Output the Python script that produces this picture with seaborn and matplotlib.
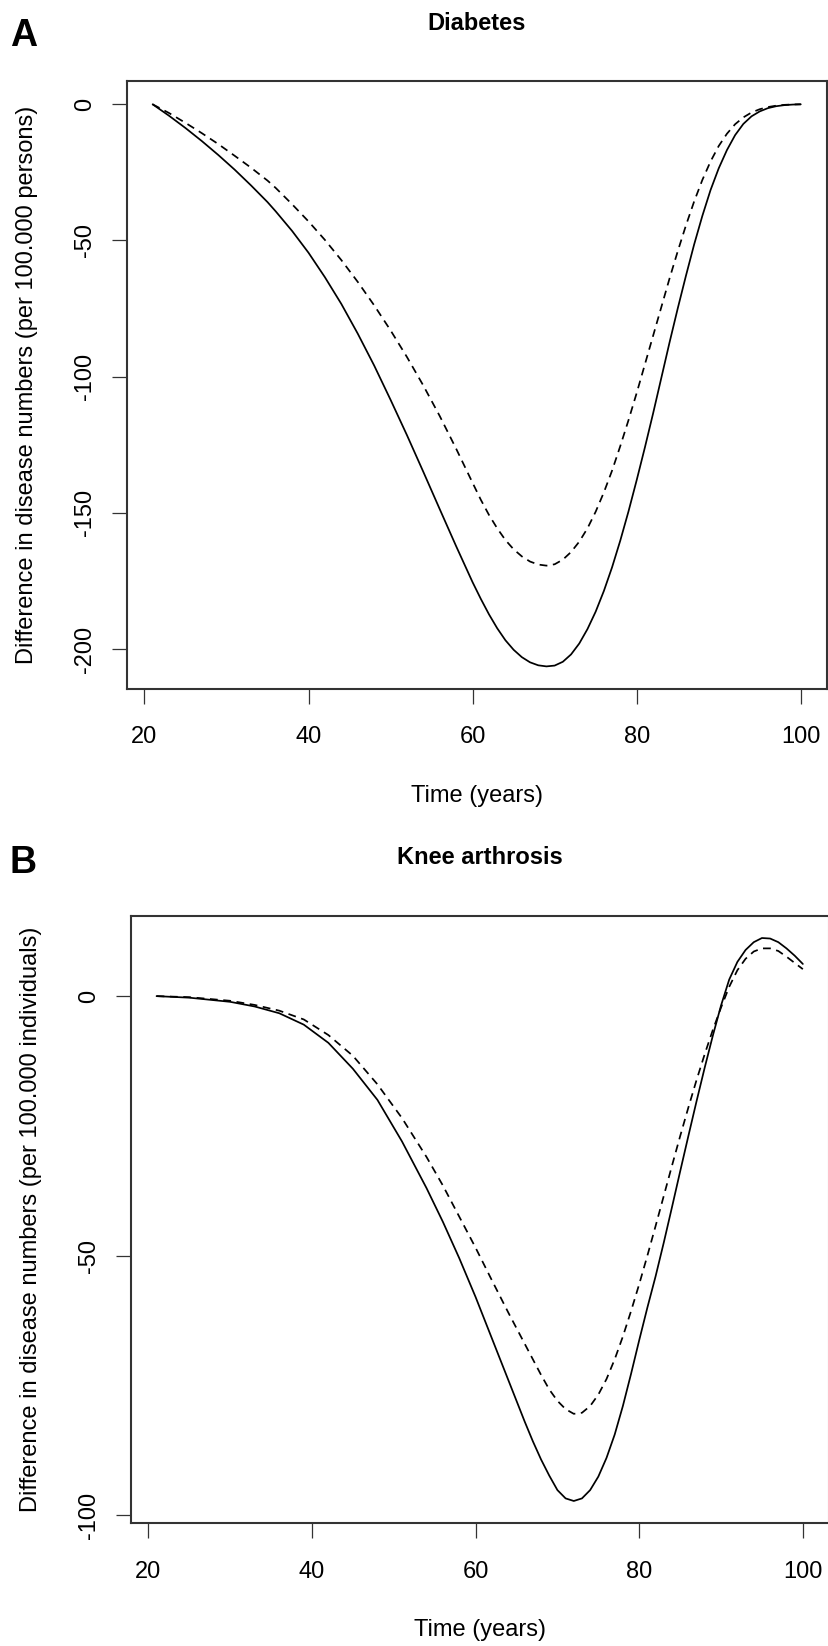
import matplotlib
matplotlib.use("Agg")
import matplotlib.pyplot as plt
import pandas as pd
import seaborn as sns

# ---------------- data ----------------
years_a = [21, 23, 25, 27, 29, 31, 33, 35, 36, 38, 40, 42, 44, 46, 48, 50, 52, 54,
           56, 58, 60, 61, 62, 63, 64, 65, 66, 67, 68, 69, 70, 71, 72, 73, 74, 75,
           76, 77, 78, 79, 80, 81, 82, 83, 84, 85, 86, 87, 88, 89, 90, 91, 92, 93,
           94, 95, 96, 97, 98, 99, 100]
diabetes_solid = [0, -4.2, -8.7, -13.5, -18.6, -24, -29.8, -35.9, -39.3, -46.5,
                  -54.5, -63.5, -73.3, -84.2, -95.9, -108.5, -121.5, -135, -148.7,
                  -162.3, -175.5, -181.6, -187.3, -192.4, -196.8, -200.3, -203,
                  -204.9, -206, -206.4, -206.1, -204.7, -202, -198, -192.7, -186.3,
                  -178.7, -170, -160.2, -149.5, -138, -126, -113.5, -100.5, -87.5,
                  -75, -63, -51.5, -41, -31.5, -23.5, -16.8, -11.3, -7.2, -4.4, -2.6,
                  -1.4, -0.7, -0.3, -0.1, 0]
diabetes_dashed = [0, -3.2, -6.8, -10.6, -14.6, -18.9, -23.3, -28, -30.7, -36.7,
                   -43, -49.8, -57.2, -65.2, -73.8, -83, -92.8, -103.3, -114.5,
                   -126.5, -139, -145.2, -150.8, -155.7, -160, -163.4, -166, -167.9,
                   -169, -169.4, -168.9, -167.2, -164.4, -160.6, -155.7, -149.6,
                   -142.5, -134.5, -125.5, -116, -106, -95.5, -85, -74.5, -64, -54,
                   -44.5, -35.7, -27.8, -21, -15.3, -10.8, -7.3, -4.8, -3, -1.8, -1,
                   -0.5, -0.2, -0.05, 0]

years_b = [21, 25, 30, 33, 36, 39, 42, 45, 48, 51, 54, 56, 58, 60, 62, 64, 65, 66,
           67, 68, 69, 70, 71, 72, 73, 74, 75, 76, 77, 78, 79, 80, 81, 82, 83, 84,
           85, 86, 87, 88, 89, 90, 91, 92, 93, 94, 95, 96, 97, 98, 99, 100]
knee_solid = [0, -0.3, -1.1, -2.0, -3.3, -5.5, -9, -14, -20, -28, -37, -43.5, -50.5,
              -58, -66, -74, -78, -82, -85.8, -89.3, -92.4, -95.2, -96.8, -97.3,
              -96.8, -95.2, -92.6, -89, -84.5, -79, -72.8, -66.3, -60, -54, -47.5,
              -40.7, -33.8, -27, -20.3, -13.8, -7.6, -1.8, 3.2, 6.6, 8.9, 10.4, 11.2,
              11.1, 10.4, 9.2, 7.8, 6.2]
knee_dashed = [0, -0.2, -0.9, -1.7, -2.8, -4.5, -7.5, -11.5, -17, -23.5, -31, -36.5,
               -42.5, -48.5, -54.8, -61, -64, -67, -70, -73, -75.8, -78, -79.6, -80.5,
               -80.3, -79, -76.8, -73.8, -70, -65.6, -60.7, -55.5, -50, -44.3, -38.5,
               -32.7, -27, -21.5, -16.2, -11.2, -6.5, -2.2, 1.8, 5, 7.2, 8.6, 9.2, 9.2,
               8.7, 7.6, 6.4, 5.2]

x_ticks = [20, 40, 60, 80, 100]
x_tick_labels = ["20", "40", "60", "80", "100"]
a_y_ticks = [0, -50, -100, -150, -200]
a_y_tick_labels = ["0", "-50", "-100", "-150", "-200"]
b_y_ticks = [0, -50, -100]
b_y_tick_labels = ["0", "-50", "-100"]

titles = ["Diabetes", "Knee arthrosis"]
panel_letters = ["A", "B"]
x_label = "Time (years)"
y_labels = ["Difference in disease numbers (per 100.000 persons)",
            "Difference in disease numbers (per 100.000 individuals)"]

# ---------------- style ----------------
sns.set_theme(style="white")
plt.rcParams['font.family'] = ['Liberation Sans', 'DejaVu Sans']
plt.rcParams['axes.unicode_minus'] = False

W, H = 829, 1646
fig = plt.figure(figsize=(W / 100, H / 100), dpi=100)


def frac_axes(left, top, right, bottom):
    return [left / W, 1 - bottom / H, (right - left) / W, (bottom - top) / H]


axA = fig.add_axes(frac_axes(126.7, 80.7, 826.7, 689.0))
axB = fig.add_axes(frac_axes(130.7, 915.7, 828.7, 1523.3))


def draw_panel(ax, years, solid, dashed, yticks, ylabels, ylim, title, ylabel,
               title_pad):
    n = len(years)
    df = pd.DataFrame({
        "year": list(years) + list(years),
        "diff": list(solid) + list(dashed),
        "scenario": ["solid"] * n + ["dashed"] * n,
    })
    sns.lineplot(data=df, x="year", y="diff", style="scenario",
                 dashes={"solid": "", "dashed": (4.5, 3.2)},
                 color="black", linewidth=1.25, legend=False, sort=False,
                 estimator=None, ax=ax)
    for ln in ax.lines:
        ln.set_solid_joinstyle("round")
        ln.set_dash_joinstyle("round")
    ax.set_xlim(17.84, 103.16)
    ax.set_ylim(*ylim)
    ax.set_xticks(x_ticks)
    ax.set_xticklabels(x_tick_labels, fontsize=17)
    ax.set_yticks(yticks)
    ax.set_yticklabels(ylabels, fontsize=17, rotation=90, va="center")
    ax.tick_params(axis="x", bottom=True, length=10.8, width=0.9, color="#333333",
                   pad=16, labelcolor="black")
    ax.tick_params(axis="y", left=True, length=10.8, width=0.9, color="#333333",
                   pad=11.5, labelcolor="black")
    for s in ax.spines.values():
        s.set_visible(True)
        s.set_color("#333333")
        s.set_linewidth(1.5)
    ax.set_xlabel(x_label, fontsize=17, color="black")
    ax.xaxis.set_label_coords(0.5, -0.158)
    ax.xaxis.label.set_va("top")
    ax.set_ylabel(ylabel, fontsize=17, color="black")
    ax.yaxis.set_label_coords(-0.1272, 0.5)
    ax.set_title(title, fontsize=17, fontweight="bold", pad=title_pad, color="black")
    ax.grid(False)


draw_panel(axA, years_a, diabetes_solid, diabetes_dashed, a_y_ticks, a_y_tick_labels,
           (-214.7, 8.67), titles[0], y_labels[0], 36.5)
draw_panel(axB, years_b, knee_solid, knee_dashed, b_y_ticks, b_y_tick_labels,
           (-101.6, 15.5), titles[1], y_labels[1], 37)
axB.spines["right"].set_color("#aaaaaa")

fig.text(10 / W, 1 - 46 / H, panel_letters[0], fontsize=27, fontweight="bold",
         ha="left", va="baseline", color="black")
fig.text(10 / W, 1 - 873 / H, panel_letters[1], fontsize=27, fontweight="bold",
         ha="left", va="baseline", color="black")

fig.savefig("out.png", dpi=100, facecolor="white")
